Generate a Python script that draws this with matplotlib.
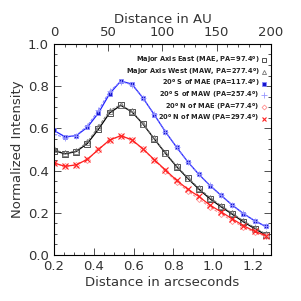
import numpy as np
import matplotlib
matplotlib.use("Agg")
import matplotlib.pyplot as plt
from matplotlib.ticker import MultipleLocator

# ===== data =====
dist_arcsec = [0.200, 0.256, 0.312, 0.368, 0.424, 0.480, 0.536, 0.592, 0.648, 0.704,
               0.760, 0.816, 0.872, 0.928, 0.984, 1.040, 1.096, 1.152, 1.208, 1.264]

mae  = [0.495, 0.479, 0.490, 0.528, 0.596, 0.673, 0.709, 0.678, 0.620, 0.550,
        0.482, 0.419, 0.363, 0.312, 0.266, 0.228, 0.193, 0.157, 0.125, 0.095]
maw  = [0.500, 0.482, 0.493, 0.535, 0.608, 0.684, 0.712, 0.680, 0.622, 0.552,
        0.485, 0.422, 0.367, 0.317, 0.272, 0.234, 0.198, 0.162, 0.130, 0.100]
s_mae = [0.590, 0.560, 0.565, 0.605, 0.673, 0.764, 0.824, 0.810, 0.743, 0.665,
         0.584, 0.511, 0.442, 0.382, 0.329, 0.282, 0.236, 0.196, 0.162, 0.135]
s_maw = [0.572, 0.556, 0.566, 0.612, 0.686, 0.776, 0.822, 0.806, 0.745, 0.666,
         0.585, 0.511, 0.442, 0.382, 0.330, 0.283, 0.237, 0.197, 0.163, 0.136]
n_mae = [0.434, 0.420, 0.426, 0.452, 0.499, 0.544, 0.563, 0.544, 0.500, 0.450,
         0.398, 0.347, 0.303, 0.266, 0.226, 0.194, 0.162, 0.132, 0.107, 0.088]
n_maw = [0.436, 0.420, 0.427, 0.453, 0.500, 0.545, 0.565, 0.546, 0.502, 0.452,
         0.403, 0.354, 0.312, 0.277, 0.236, 0.204, 0.171, 0.139, 0.112, 0.092]

labels = ["Major Axis East (MAE, PA=97.4$^o$)",
          "Major Axis West (MAW, PA=277.4$^o$)",
          "20$^o$ S of MAE (PA=117.4$^o$)",
          "20$^o$ S of MAW (PA=257.4$^o$)",
          "20$^o$ N of MAE (PA=77.4$^o$)",
          "20$^o$ N of MAW (PA=297.4$^o$)"]

plt.rcParams['font.family'] = 'DejaVu Sans'
plt.rcParams['mathtext.default'] = 'regular'

fig = plt.figure(figsize=(3.01, 3.01), dpi=100)
ax = fig.add_axes([0.179, 0.153, 0.721, 0.701])

ms = 3.7
mew = 0.6
ax.plot(dist_arcsec, mae, '-', color='black', lw=0.9, marker='s', ms=ms,
        mfc='none', mec='#333333', mew=mew, label=labels[0])
ax.plot(dist_arcsec, maw, '--', color='#777777', lw=0.7, dashes=(3, 1.5), marker='^',
        ms=ms, mfc='none', mec='#777777', mew=mew, label=labels[1])
ax.plot(dist_arcsec, s_mae, '-', color='#2222ff', lw=0.9, marker='s', ms=ms - 0.6,
        mfc='#1515cc', mec='#8888ff', mew=mew, label=labels[2])
ax.plot(dist_arcsec, s_maw, '--', color='#7777ff', lw=0.7, dashes=(3, 1.5), marker='+',
        ms=ms + 1, mec='#9999ff', mew=mew, label=labels[3])
ax.plot(dist_arcsec, n_mae, '--', color='#ff8080', lw=0.7, dashes=(3, 1.5), marker='D',
        ms=ms - 0.6, mfc='none', mec='#ff9090', mew=mew, label=labels[4])
ax.plot(dist_arcsec, n_maw, '-', color='#ff2020', lw=0.9, marker='x', ms=ms,
        mec='#ff2020', mew=0.8, label=labels[5])

ax.set_xlim(0.2, 1.29)
ax.set_ylim(0.0, 1.0)
ax.xaxis.set_major_locator(MultipleLocator(0.2))
ax.xaxis.set_minor_locator(MultipleLocator(0.05))
ax.yaxis.set_major_locator(MultipleLocator(0.2))
ax.yaxis.set_minor_locator(MultipleLocator(0.05))
ax.xaxis.set_major_formatter(plt.FormatStrFormatter('%.1f'))
ax.yaxis.set_major_formatter(plt.FormatStrFormatter('%.1f'))
ax.tick_params(which='both', direction='in', right=True, labelsize=9.5, width=0.6,
               colors='#333333', labelcolor='#333333')
ax.tick_params(which='major', length=5)
ax.tick_params(which='minor', length=2.5)
ax.set_xlabel("Distance in arcseconds", fontsize=9.5, color='#333333', labelpad=2)
ax.set_ylabel("Normalized Intensity", fontsize=9.5, color='#333333', labelpad=3)
for s in ax.spines.values():
    s.set_linewidth(0.7)
    s.set_color('#333333')

ax2 = ax.twiny()
ax2.set_xlim(0, 200)
ax2.xaxis.set_major_locator(MultipleLocator(50))
ax2.xaxis.set_minor_locator(MultipleLocator(10))
ax2.tick_params(which='both', direction='in', labelsize=9.5, width=0.6,
                colors='#333333', labelcolor='#333333')
ax2.tick_params(which='major', length=5)
ax2.tick_params(which='minor', length=2.5)
ax2.set_xlabel("Distance in AU", fontsize=9.5, color='#333333', labelpad=2)

leg = ax.legend(loc='upper right', bbox_to_anchor=(1.0, 0.97), frameon=False,
                markerfirst=False, handlelength=0.6, handletextpad=0.4,
                labelspacing=0.1, borderaxespad=0.3, markerscale=0.8,
                prop={'size': 4.8, 'weight': 'bold'})
for t in leg.get_texts():
    t.set_ha('right')
    t.set_color('#222222')
for h in leg.legend_handles:
    h.set_linestyle('none')

fig.savefig("out.png", dpi=100)
